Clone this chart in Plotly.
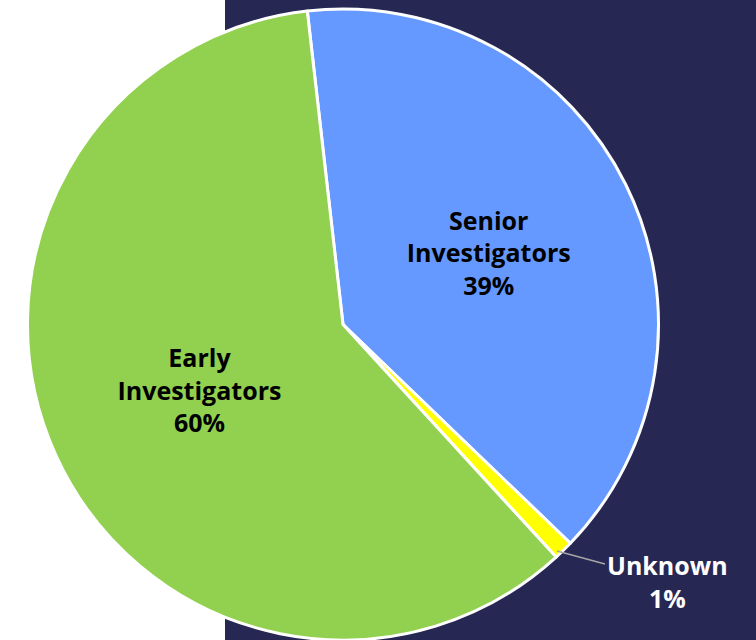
import plotly.graph_objects as go

categories = ["Senior<br>Investigators", "Unknown", "Early<br>Investigators"]
shares = [39, 1, 60]
slice_colors = ["#6699FF", "#FFFF00", "#92D050"]
text_positions = ["inside", "none", "inside"]

W, H = 756, 640
cx, cy, r = 343, 325, 316
T = 9
PH = H - T

fig = go.Figure()
fig.add_trace(go.Pie(
    labels=categories,
    values=shares,
    sort=False,
    direction="clockwise",
    rotation=-6.5,
    marker=dict(colors=slice_colors, line=dict(color="white", width=3)),
    textposition=text_positions,
    texttemplate="<b>%{label}<br>%{percent:.0%}</b>",
    insidetextorientation="horizontal",
    textfont=dict(family="Open Sans", size=25, color="black"),
    showlegend=False,
    hoverinfo="label+percent",
    domain=dict(x=[(cx - r) / W, (cx + r) / W], y=[0, 1]),
))

# Label for the tiny "Unknown" slice, with a leader line
unk_pct = shares[1] / sum(shares)
fig.add_annotation(
    x=557 / W, y=(H - 551) / PH, xref="paper", yref="paper",
    text="<b>%s<br>%d%%</b>" % (categories[1], round(unk_pct * 100)),
    showarrow=True, arrowhead=0, arrowwidth=1.5, arrowcolor="#A6A6A6",
    ax=110, ay=30,
    font=dict(family="Open Sans", size=25, color="white"),
    align="center",
)

fig.add_shape(type="rect", xref="paper", yref="paper",
              x0=225 / W, x1=1.01, y0=-0.02, y1=1 + (T + 2) / PH,
              fillcolor="#262853", line=dict(width=0), layer="below")

fig.update_layout(
    width=W, height=H,
    margin=dict(l=0, r=0, t=T, b=0),
    paper_bgcolor="white",
    plot_bgcolor="white",
)

fig.write_html("out.html",
               config={"displayModeBar": False},
               post_script="document.body.style.margin='0';document.body.style.overflow='hidden';")
